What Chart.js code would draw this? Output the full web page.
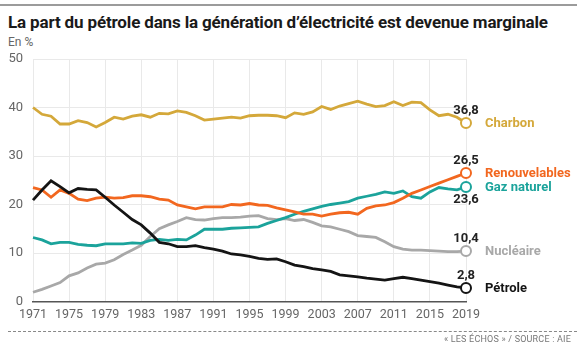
<!DOCTYPE html>
<html lang="fr">
<head>
<meta charset="utf-8">
<script src="https://cdn.jsdelivr.net/npm/chart.js@4.4.1/dist/chart.umd.min.js"></script>
<style>
  html, body { margin: 0; padding: 0; background: #fff; }
  #wrap { position: relative; width: 577px; height: 348px; overflow: hidden; font-family: Roboto, "Noto Sans", sans-serif; }
  #topline { position: absolute; left: 0; top: 4px; width: 577px; height: 2px; background: #9b9b9b; }
  #title { position: absolute; left: 8px; top: 12px; font-size: 17px; font-weight: 700; color: #1a1a1a; letter-spacing: -0.15px; white-space: nowrap; }
  #unit { position: absolute; left: 8px; top: 35px; font-size: 12px; color: #666; }
  #dots { position: absolute; left: 8px; top: 331px; width: 569px; border-top: 1px dashed #888; }
  #source { position: absolute; right: 6px; top: 334px; font-size: 9px; color: #777; letter-spacing: 0.2px; }
  #chartBox { position: absolute; left: 0; top: 0; width: 577px; height: 348px; }
</style>
</head>
<body>
<div id="wrap">
  <div id="topline"></div>
  <div id="title">La part du pétrole dans la génération d’électricité est devenue marginale</div>
  <div id="unit">En %</div>
  <div id="chartBox"><canvas id="energyChart"></canvas></div>
  <div id="dots"></div>
  <div id="source">« LES ÉCHOS » / SOURCE : AIE</div>
</div>
<script>
const years = [1971, 1972, 1973, 1974, 1975, 1976, 1977, 1978, 1979, 1980,
  1981, 1982, 1983, 1984, 1985, 1986, 1987, 1988, 1989, 1990,
  1991, 1992, 1993, 1994, 1995, 1996, 1997, 1998, 1999, 2000,
  2001, 2002, 2003, 2004, 2005, 2006, 2007, 2008, 2009, 2010,
  2011, 2012, 2013, 2014, 2015, 2016, 2017, 2018, 2019];

const charbon = [40.0, 38.6, 38.2, 36.6, 36.6, 37.3, 36.9, 36.0, 36.9, 38.0,
  37.6, 38.2, 38.5, 38.0, 38.8, 38.7, 39.3, 39.0, 38.3, 37.4,
  37.6, 37.8, 38.0, 37.8, 38.3, 38.4, 38.4, 38.3, 37.9, 38.9,
  38.6, 39.1, 40.2, 39.6, 40.3, 40.8, 41.3, 40.7, 40.2, 40.4,
  41.2, 40.4, 41.1, 41.0, 39.5, 38.3, 38.6, 38.0, 36.8];

const renouvelables = [23.5, 23.0, 21.5, 23.0, 22.3, 21.1, 20.8, 21.3, 21.5, 21.3,
  21.4, 21.8, 21.8, 21.6, 21.1, 20.9, 19.9, 19.5, 19.1, 19.5,
  19.5, 19.5, 20.0, 19.9, 20.2, 19.9, 19.8, 19.3, 18.9, 18.5,
  18.0, 18.0, 17.6, 18.0, 18.3, 18.4, 18.0, 19.2, 19.7, 19.9,
  20.4, 21.3, 22.3, 23.0, 23.7, 24.4, 25.1, 25.8, 26.5];

const gazNaturel = [13.2, 12.7, 11.9, 12.2, 12.2, 11.8, 11.6, 11.5, 11.9, 11.9,
  11.9, 12.1, 12.0, 12.6, 12.8, 12.6, 12.8, 12.7, 13.7, 14.9,
  14.9, 14.9, 15.1, 15.2, 15.3, 15.4, 16.1, 16.7, 17.3, 18.0,
  18.6, 19.1, 19.6, 20.0, 20.3, 20.6, 21.3, 21.7, 22.1, 22.6,
  22.3, 22.8, 21.6, 21.3, 22.6, 23.5, 23.2, 23.0, 23.6];

const nucleaire = [1.9, 2.5, 3.2, 3.9, 5.3, 5.9, 6.9, 7.7, 7.9, 8.6,
  9.7, 10.6, 11.6, 13.4, 15.0, 15.8, 16.5, 17.3, 16.9, 16.8,
  17.1, 17.3, 17.3, 17.4, 17.6, 17.7, 17.1, 16.9, 17.1, 16.7,
  16.9, 16.3, 15.6, 15.4, 14.9, 14.4, 13.6, 13.4, 13.2, 12.3,
  11.3, 10.8, 10.6, 10.6, 10.5, 10.4, 10.3, 10.3, 10.4];

const petrole = [20.9, 23.0, 24.9, 23.7, 22.4, 23.3, 23.1, 23.0, 21.5, 19.9,
  18.4, 16.9, 15.8, 14.1, 12.2, 11.9, 11.3, 11.3, 11.5, 11.1,
  10.8, 10.4, 9.8, 9.6, 9.3, 8.9, 8.7, 8.8, 8.2, 7.5,
  7.2, 6.8, 6.5, 6.2, 5.5, 5.3, 5.1, 4.8, 4.6, 4.4,
  4.7, 5.0, 4.7, 4.4, 4.1, 3.8, 3.4, 3.0, 2.8];

const yTicks = [0, 10, 20, 30, 40, 50];

// décalage vertical de la valeur finale par rapport au point (px)
const valueShift = { 'Charbon': -12, 'Renouvelables': -12, 'Gaz naturel': 13, 'Nucléaire': -12, 'Pétrole': -12 };

const lastIdx = years.length - 1;

function serie(label, data, color) {
  return {
    label: label,
    data: data,
    borderColor: color,
    borderWidth: 2.8,
    tension: 0,
    pointRadius: ctx => ctx.dataIndex === lastIdx ? 5 : 0,
    pointHoverRadius: 0,
    pointBackgroundColor: '#fff',
    pointBorderColor: color,
    pointBorderWidth: 2,
    fill: false
  };
}

// étiquettes en fin de courbe
const endLabels = {
  id: 'endLabels',
  afterDatasetsDraw(chart) {
    const ctx = chart.ctx;
    chart.data.datasets.forEach((ds, i) => {
      const meta = chart.getDatasetMeta(i);
      const pt = meta.data[lastIdx];
      const v = ds.data[lastIdx];
      ctx.save();
      ctx.textBaseline = 'middle';
      ctx.font = '700 13px Roboto';
      ctx.fillStyle = '#222';
      ctx.textAlign = 'center';
      ctx.fillText(v.toFixed(1).replace('.', ','), pt.x, pt.y + valueShift[ds.label]);
      ctx.fillStyle = ds.borderColor;
      ctx.textAlign = 'left';
      ctx.fillText(ds.label, pt.x + 19, pt.y + 1);
      ctx.restore();
    });
  }
};

const ctx = document.getElementById('energyChart').getContext('2d');
new Chart(ctx, {
  type: 'line',
  data: {
    labels: years,
    datasets: [
      serie('Pétrole', petrole, '#141414'),
      serie('Renouvelables', renouvelables, '#f2671f'),
      serie('Gaz naturel', gazNaturel, '#1ba39b'),
      serie('Nucléaire', nucleaire, '#a8a8a8'),
      serie('Charbon', charbon, '#d4a83a')
    ]
  },
  options: {
    responsive: true,
    maintainAspectRatio: false,
    animation: false,
    layout: { padding: { left: 0, top: 59, right: 111, bottom: 0 } },
    scales: {
      x: {
        type: 'category',
        offset: false,
        afterFit: s => { s.height = 46.5; },
        grid: {
          color: c => (c.index % 4 === 0 ? '#e9e9e9' : 'rgba(0,0,0,0)'),
          lineWidth: 1,
          drawTicks: false
        },
        border: { display: true, color: '#555', width: 1.5 },
        ticks: {
          autoSkip: false,
          maxRotation: 0,
          padding: 6,
          color: '#666',
          font: { family: 'Roboto', size: 12.5 },
          callback: (v, i) => (i % 4 === 0 ? years[i] : '')
        }
      },
      y: {
        min: 0,
        max: 50,
        afterFit: s => { s.width = 33; },
        afterBuildTicks: s => { s.ticks = yTicks.map(t => ({ value: t })); },
        grid: { color: '#e9e9e9', lineWidth: 1, drawTicks: false },
        border: { display: false },
        ticks: {
          padding: 10,
          color: '#666',
          font: { family: 'Roboto', size: 13 }
        }
      }
    },
    plugins: {
      legend: { display: false },
      tooltip: { enabled: false }
    }
  },
  plugins: [endLabels]
});
</script>
</body>
</html>
